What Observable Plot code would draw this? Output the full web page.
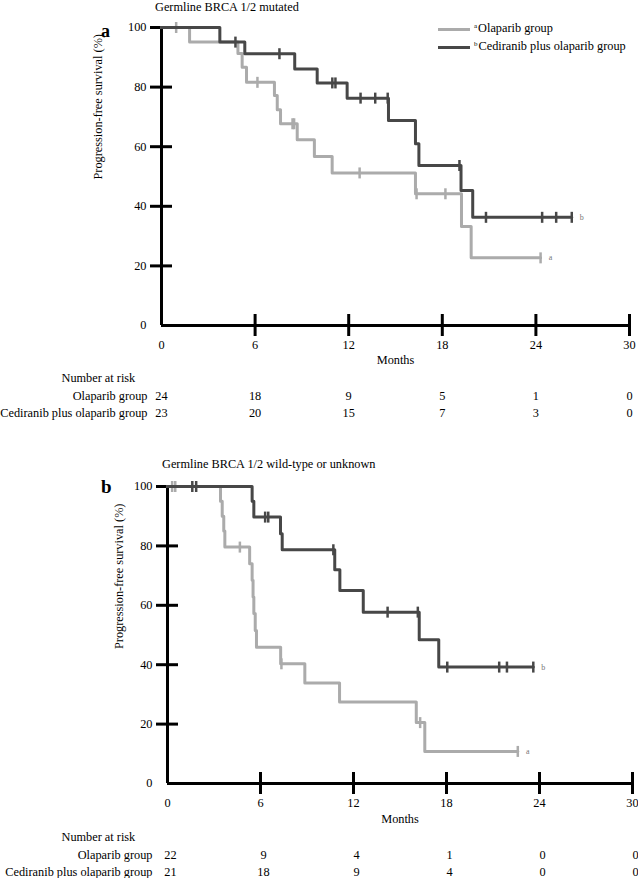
<!DOCTYPE html>
<html><head><meta charset="utf-8">
<script src="https://cdn.jsdelivr.net/npm/d3@7"></script>
<script src="https://cdn.jsdelivr.net/npm/@observablehq/plot@0.6"></script>
<style>
body{margin:0;background:#fff;}
#root{position:relative;width:638px;height:878px;font-family:"Liberation Serif","Times New Roman",serif;color:#000;overflow:hidden;}
.abs{position:absolute;white-space:nowrap;line-height:1;}
.panel{position:absolute;left:0;}
.panel svg{overflow:visible;}
sup{font-size:7px;vertical-align:4px;margin-right:1px;}
</style></head><body><div id="root"></div>
<script>
// ---------- data ----------
const months = [0, 6, 12, 18, 24, 30];
const yTicks = [0, 20, 40, 60, 80, 100];
const groups = ["Olaparib group", "Cediranib plus olaparib group"];

// Panel a: germline BRCA 1/2 mutated
const aOlaTimes = [0, 1.8, 4.9, 5.17, 5.45, 7.24, 7.42, 7.63, 8.7, 9.8, 10.94, 16.28, 19.23, 19.85];
const aOlaSurv  = [100, 95.1, 91.3, 86.7, 81.6, 77.2, 72.4, 67.7, 62.3, 56.7, 51.2, 44.2, 33.2, 22.7];
const aOlaCens  = [0.94, 6.15, 8.4, 8.5, 12.7, 16.35, 18.2, 24.3];
const aCedTimes = [0, 3.74, 5.34, 8.54, 9.98, 11.9, 14.55, 16.28, 16.5, 19.2, 19.95];
const aCedSurv  = [100, 95.1, 91.2, 86.1, 81.4, 76.3, 68.8, 61.0, 53.7, 45.3, 36.3];
const aCedCens  = [4.74, 7.56, 10.95, 11.15, 12.76, 13.7, 14.5, 19.1, 20.8, 24.4, 25.3, 26.3];
const aRiskOla  = [24, 18, 9, 5, 1, 0];
const aRiskCed  = [23, 20, 15, 7, 3, 0];

// Panel b: germline BRCA 1/2 wild-type or unknown
const bOlaTimes = [0, 3.42, 3.53, 3.63, 3.7, 5.3, 5.46, 5.52, 5.57, 5.66, 5.74, 7.3, 8.86, 11.1, 16.05, 16.6];
const bOlaSurv  = [100, 95, 90, 85, 79.6, 74.0, 68.4, 62.8, 57.2, 51.5, 45.9, 40.3, 33.8, 27.4, 20.5, 10.8];
const bOlaCens  = [0.3, 0.5, 4.67, 7.35, 16.3, 22.6];
const bCedTimes = [0, 5.46, 5.57, 7.29, 7.4, 10.79, 11.12, 12.63, 16.24, 17.5];
const bCedSurv  = [100, 95.0, 89.7, 84.1, 78.7, 72.0, 65.0, 57.7, 48.4, 39.2];
const bCedCens  = [1.6, 1.85, 6.3, 6.5, 10.7, 14.2, 16.15, 18.05, 21.4, 21.9, 23.6];
const bRiskOla  = [22, 9, 4, 1, 0, 0];
const bRiskCed  = [21, 18, 9, 4, 0, 0];

// ---------- helpers ----------
const GRAY = "#ababab", DARK = "#474747";
const FONT = '"Liberation Serif","Times New Roman",serif';
const vbar = {draw(ctx, size) { const r = Math.sqrt(size / Math.PI); ctx.moveTo(0, -r); ctx.lineTo(0, r); }};

function survAt(t, times, surv) {
  let s = surv[0];
  for (let i = 0; i < times.length; i++) if (times[i] <= t) s = surv[i];
  return s;
}
function curve(times, surv, cens) {
  const pts = times.map((t, i) => ({t, s: surv[i]}));
  const end = Math.max(...cens);
  if (end > times[times.length - 1]) pts.push({t: end, s: surv[surv.length - 1]});
  return pts;
}
function censPts(times, surv, cens) { return cens.map(t => ({t, s: survAt(t, times, surv)})); }

function panel(c) {
  const ola = curve(c.olaT, c.olaS, c.olaC), ced = curve(c.cedT, c.cedS, c.cedC);
  const olaEnd = ola[ola.length - 1], cedEnd = ced[ced.length - 1];
  const bottom = (dy, extra) => ({frameAnchor: "bottom", dy, fontSize: 12.3, ...extra});
  return Plot.plot({
    width: 638, height: c.height,
    marginLeft: c.mL, marginRight: c.mR, marginTop: c.mT, marginBottom: c.mB,
    x: {domain: [0, 30]}, y: {domain: [0, 100]},
    style: {fontFamily: FONT, fontSize: "12.3px", background: "transparent", color: "#000", overflow: "visible"},
    marks: [
      Plot.axisY({ticks: yTicks.filter(d => d > 0), tickSize: 22, dx: 11, fill: "none", stroke: "#000", strokeWidth: 3, label: null}),
      Plot.axisY({ticks: yTicks, tickSize: 0, tickPadding: 15, label: null, fontSize: 12.3}),
      Plot.axisX({ticks: months.filter(d => d > 0), tickSize: 22, dy: -11, fill: "none", stroke: "#000", strokeWidth: 3, label: null}),
      Plot.axisX({ticks: months, tickSize: 0, tickPadding: 14.5, label: null, fontSize: 12.3}),
      Plot.ruleX([0], {y1: 0, y2: 100, stroke: "#000", strokeWidth: 3}),
      Plot.ruleY([0], {x1: 0, x2: 30, stroke: "#000", strokeWidth: 3}),
      Plot.line(ola, {x: "t", y: "s", curve: "step-after", stroke: GRAY, strokeWidth: 3}),
      Plot.dot(censPts(c.olaT, c.olaS, c.olaC), {x: "t", y: "s", symbol: vbar, r: 5.5, stroke: GRAY, strokeWidth: 2.5, fill: "none"}),
      Plot.line(ced, {x: "t", y: "s", curve: "step-after", stroke: DARK, strokeWidth: 3}),
      Plot.dot(censPts(c.cedT, c.cedS, c.cedC), {x: "t", y: "s", symbol: vbar, r: 5.5, stroke: DARK, strokeWidth: 2.5, fill: "none"}),
      Plot.text([olaEnd], {x: "t", y: "s", text: () => "a", dx: 10, fontSize: 8, fill: "#777"}),
      Plot.text([cedEnd], {x: "t", y: "s", text: () => "b", dx: 10, fontSize: 8, fill: "#777"}),
      Plot.text(["Progression-free survival (%)"], {frameAnchor: "left", dx: c.ylabDx, dy: c.ylabDy, rotate: -90, fontSize: 12.3}),
      Plot.text([{t: 15}], {x: "t", text: () => "Months", ...bottom(c.dyMonths)}),
      Plot.text([{t: 0}], {x: "t", text: () => "Number at risk", textAnchor: "start", dx: c.narDx, ...bottom(c.dyNar)}),
      Plot.text([{t: 0}], {x: "t", text: () => groups[0], textAnchor: "end", dx: c.rowDx, ...bottom(c.dyRow1)}),
      Plot.text([{t: 0}], {x: "t", text: () => groups[1], textAnchor: "end", dx: c.rowDx, ...bottom(c.dyRow2)}),
      Plot.text(months, {x: d => d, text: (d, i) => c.riskOla[i], dx: c.numDx, ...bottom(c.dyRow1)}),
      Plot.text(months, {x: d => d, text: (d, i) => c.riskCed[i], dx: c.numDx, ...bottom(c.dyRow2)})
    ]
  });
}

const root = document.getElementById("root");
function place(node, top) { const d = document.createElement("div"); d.className = "panel"; d.style.top = top + "px"; d.appendChild(node); root.appendChild(d); }
function label(html, left, top, css) { const d = document.createElement("div"); d.className = "abs"; d.innerHTML = html; d.style.left = left + "px"; d.style.top = top + "px"; Object.assign(d.style, css || {}); root.appendChild(d); return d; }

place(panel({
  height: 425, mL: 161, mR: 9, mT: 27, mB: 100,
  olaT: aOlaTimes, olaS: aOlaSurv, olaC: aOlaCens, cedT: aCedTimes, cedS: aCedSurv, cedC: aCedCens,
  riskOla: aRiskOla, riskCed: aRiskCed,
  ylabDx: -63, ylabDy: 3, dyMonths: 38, dyNar: 56, dyRow1: 74, dyRow2: 91, narDx: -100, rowDx: -14, numDx: 0
}), 0);

place(panel({
  height: 438, mL: 167, mR: 6, mT: 46, mB: 95,
  olaT: bOlaTimes, olaS: bOlaSurv, olaC: bOlaCens, cedT: bCedTimes, cedS: bCedSurv, cedC: bCedCens,
  riskOla: bRiskOla, riskCed: bRiskCed,
  ylabDx: -48, ylabDy: 14, dyMonths: 39.5, dyNar: 57.5, dyRow1: 75, dyRow2: 92, narDx: -106, rowDx: -15, numDx: 3
}), 440);

// titles, panel letters, legend
label("Germline BRCA 1/2 mutated", 155, 1, {fontSize: "12.3px"});
label("Germline BRCA 1/2 wild-type or unknown", 162, 458, {fontSize: "12.3px"});
label("a", 101, 22, {fontSize: "18px", fontWeight: "bold"});
label("b", 101, 477, {fontSize: "19px", fontWeight: "bold"});

const legend = [{g: groups[0], k: "a", c: GRAY, y: 29}, {g: groups[1], k: "b", c: DARK, y: 47}];
legend.forEach(d => {
  label("", 438, d.y - 1.5, {width: "32px", height: "3px", background: d.c});
  label(`<sup>${d.k}</sup>${d.g}`, 474, d.y - 7, {fontSize: "12.3px"});
});
</script></body></html>
